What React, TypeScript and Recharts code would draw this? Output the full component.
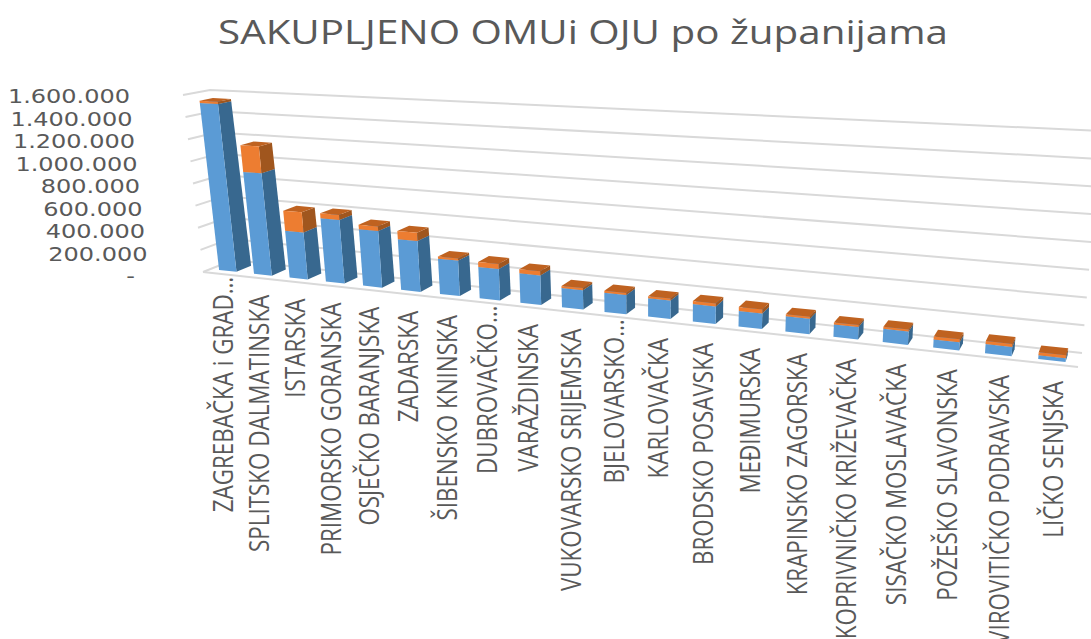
import React from 'react';
import { BarChart, Bar, XAxis, YAxis, CartesianGrid } from 'recharts';

const counties = [
  'ZAGREBAČKA i GRAD…', 'SPLITSKO DALMATINSKA', 'ISTARSKA', 'PRIMORSKO GORANSKA', 'OSJEČKO BARANJSKA',
  'ZADARSKA', 'ŠIBENSKO KNINSKA', 'DUBROVAČKO…', 'VARAŽDINSKA', 'VUKOVARSKO SRIJEMSKA',
  'BJELOVARSKO…', 'KARLOVAČKA', 'BRODSKO POSAVSKA', 'MEĐIMURSKA', 'KRAPINSKO ZAGORSKA',
  'KOPRIVNIČKO KRIŽEVAČKA', 'SISAČKO MOSLAVAČKA', 'POŽEŠKO SLAVONSKA', 'VIROVITIČKO PODRAVSKA', 'LIČKO SENJSKA',
];
const omu = [
  1520000, 917000, 418000, 557000, 490000, 435000, 300000, 263000, 244000, 158000,
  155000, 147000, 137000, 120000, 118000, 93000, 100000, 60000, 67000, 27000,
];
const oju = [
  20000, 240000, 178000, 44000, 40000, 70000, 18000, 43000, 34000, 17000,
  16000, 16000, 24000, 32000, 16000, 16000, 15000, 23000, 22000, 22000,
];
const yTicks = [0, 200000, 400000, 600000, 800000, 1000000, 1200000, 1400000, 1600000];

const data = counties.map((name, i) => ({ name, omu: omu[i], oju: oju[i] }));

// plot box in the svg
const W = 1091;
const H = 639;
const LEFT = 203;
const RIGHT = 1078;
const TOP = 95;
const BOTTOM = 272;

// corners of the 3D box, front plane and back plane
const FRONT = { bl: [203, 272], br: [1078, 367], tl: [183, 95], tr: [1097, 142] };
const BACK = { bl: [233, 260], br: [1082, 353], tl: [210, 90], tr: [1101, 131] };
const SHRINK = 0.21;

const mix = (a: number, b: number, t: number) => a + (b - a) * t;

// u across the categories, v up the value axis, d into the depth
const project = (u: number, v: number, d: number) => {
  const s = (u * (1 - SHRINK)) / (1 - SHRINK * u);
  const at = (k: 0 | 1) => {
    const bl = mix(FRONT.bl[k], BACK.bl[k], d);
    const br = mix(FRONT.br[k], BACK.br[k], d);
    const tl = mix(FRONT.tl[k], BACK.tl[k], d);
    const tr = mix(FRONT.tr[k], BACK.tr[k], d);
    return mix(mix(bl, br, s), mix(tl, tr, s), v);
  };
  return [at(0), at(1)];
};

const poly = (pts: number[][]) => pts.map((p) => `${p[0].toFixed(1)},${p[1].toFixed(1)}`).join(' ');

const box3d = (colors: { front: string; side: string; top: string }) => (props: any) => {
  const { x, y, width, height } = props;
  const u1 = (x - LEFT) / (RIGHT - LEFT);
  const u2 = (x + width - LEFT) / (RIGHT - LEFT);
  const v1 = (BOTTOM - (y + height)) / (BOTTOM - TOP);
  const v2 = (BOTTOM - y) / (BOTTOM - TOP);
  const d1 = 0.25;
  const d2 = 0.75;
  return (
    <g>
      <polygon fill={colors.side} points={poly([project(u2, v1, d1), project(u2, v1, d2), project(u2, v2, d2), project(u2, v2, d1)])} />
      <polygon fill={colors.top} points={poly([project(u1, v2, d1), project(u2, v2, d1), project(u2, v2, d2), project(u1, v2, d2)])} />
      <polygon fill={colors.front} points={poly([project(u1, v1, d1), project(u2, v1, d1), project(u2, v2, d1), project(u1, v2, d1)])} />
    </g>
  );
};

// grid runs along the left wall and the back wall, the zero line also along the front of the floor
const gridLine = (props: any) => {
  const v = (BOTTOM - props.y1) / (BOTTOM - TOP);
  const pts = [project(0, v, 0), project(0, v, 1), project(1, v, 1)];
  const a = project(0, 0, 0);
  const b = project(1, 0, 0);
  return (
    <g key={props.key}>
      <polyline fill="none" stroke="#d9d9d9" strokeWidth={2} points={poly(pts)} />
      {v < 0.001 && <line x1={a[0]} y1={a[1]} x2={b[0]} y2={b[1]} stroke="#d9d9d9" strokeWidth={2} />}
    </g>
  );
};

const YTick = (props: any) => {
  const { y, payload } = props;
  const v = payload.value / yTicks[yTicks.length - 1];
  const label = payload.value === 0 ? '-' : payload.value.toLocaleString('de-DE');
  const right = payload.value === 0 ? 135 : project(0, v, 0)[0] - 53;
  return (
    <text transform={`translate(${right},${y + 1 + (y - TOP) * 0.017}) scale(1.2,1)`} textAnchor="end"
      dominantBaseline="central" fontFamily="DejaVu Sans" fontSize={20} fill="#595959">
      {label}
    </text>
  );
};

const XTick = (props: any) => {
  const { x, payload } = props;
  const u = (x - LEFT) / (RIGHT - LEFT);
  const p = project(u, 0, 0);
  const lift = payload.value.endsWith('…') ? 3 : 17;
  return (
    <text transform={`translate(${p[0] + 2},${p[1] + lift}) rotate(-90) scale(0.83,1)`} textAnchor="end"
      dominantBaseline="central" fontFamily="Open Sans" fontSize={27} fill="#595959">
      {payload.value}
    </text>
  );
};

const blueBar = box3d({ front: '#5b9bd5', side: '#38688f', top: '#4a85ba' });
const orangeBar = box3d({ front: '#ed7d31', side: '#a0561e', top: '#bf6220' });

export default function App() {
  return (
    <div style={{ position: 'absolute', left: 0, top: 0, width: W, height: H, overflow: 'hidden', background: '#fff' }}>
      <BarChart
        width={W}
        height={H}
        data={data}
        margin={{ top: TOP, right: W - RIGHT, bottom: 0, left: 0 }}
        barCategoryGap="25%"
      >
        <text x={583} y={31} textAnchor="middle" dominantBaseline="central" fontFamily="Open Sans" fontSize={33}
          textLength={730} lengthAdjust="spacingAndGlyphs" fill="#595959">
          SAKUPLJENO OMUi OJU po županijama
        </text>
        <CartesianGrid vertical={false} horizontal={gridLine} horizontalValues={yTicks} />
        <XAxis dataKey="name" interval={0} height={H - BOTTOM} axisLine={false} tickLine={false} tick={<XTick />} />
        <YAxis width={LEFT} domain={[0, 1600000]} ticks={yTicks} interval={0} axisLine={false} tickLine={false} tick={<YTick />} />
        <Bar dataKey="omu" stackId="a" shape={blueBar} isAnimationActive={false} />
        <Bar dataKey="oju" stackId="a" shape={orangeBar} isAnimationActive={false} />
      </BarChart>
    </div>
  );
}
